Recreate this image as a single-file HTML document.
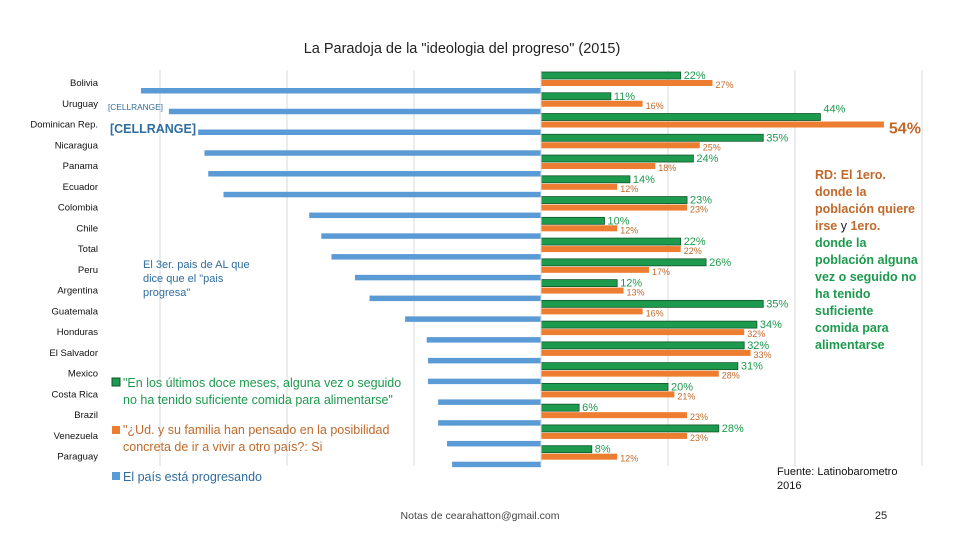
<!DOCTYPE html>
<html><head><meta charset="utf-8"><style>
body{margin:0;background:#fff;}
svg text{font-family:"Liberation Sans",sans-serif;}
</style></head><body>
<svg id="chart" width="960" height="540" xmlns="http://www.w3.org/2000/svg">
<text x="462" y="53" text-anchor="middle" font-size="14.5" fill="#222">La Paradoja de la "ideologia del progreso" (2015)</text>
<g id="grid"></g><g id="bars"></g><g id="labels"></g>
<text x="108" y="110" font-size="8.5" fill="#2e6d9e" textLength="55" lengthAdjust="spacingAndGlyphs">[CELLRANGE]</text>
<text x="110" y="133" font-size="13" font-weight="bold" fill="#2e6d9e" textLength="86" lengthAdjust="spacingAndGlyphs">[CELLRANGE]</text>
<text font-size="11" fill="#2e6d9e"><tspan x="143" y="268">El 3er. pais de AL que</tspan><tspan x="143" y="282">dice que el "pais</tspan><tspan x="143" y="296">progresa"</tspan></text>
<g font-size="12.5" font-weight="bold">
<text x="815" y="179" fill="#c0692a">RD: El 1ero.</text>
<text x="815" y="196" fill="#c0692a">donde la</text>
<text x="815" y="213" fill="#c0692a">población quiere</text>
<text x="815" y="230" fill="#c0692a">irse <tspan fill="#222" font-weight="normal">y</tspan> 1ero.</text>
<text x="815" y="247" fill="#1e9a4e">donde la</text>
<text x="815" y="264" fill="#1e9a4e">población alguna</text>
<text x="815" y="281" fill="#1e9a4e">vez o seguido no</text>
<text x="815" y="298" fill="#1e9a4e">ha tenido</text>
<text x="815" y="315" fill="#1e9a4e">suficiente</text>
<text x="815" y="332" fill="#1e9a4e">comida para</text>
<text x="815" y="349" fill="#1e9a4e">alimentarse</text>
</g>
<g font-size="12.5">
<rect x="112" y="378" width="8" height="8" fill="#1e9a4e" stroke="#11572b"/>
<text fill="#1e9a4e"><tspan x="123" y="387">"En los últimos doce meses, alguna vez o seguido</tspan><tspan x="123" y="404">no ha tenido suficiente comida para alimentarse"</tspan></text>
<rect x="112" y="426" width="8" height="8" fill="#ed7d31"/>
<text fill="#c0692a"><tspan x="123" y="434">"¿Ud. y su familia han pensado en la posibilidad</tspan><tspan x="123" y="451">concreta de ir a vivir a otro país?: Si</tspan></text>
<rect x="112" y="472" width="8" height="8" fill="#5b9bd5"/>
<text x="123" y="481" fill="#2e6d9e">El país está progresando</text>
</g>
<text font-size="11" fill="#111"><tspan x="777" y="475">Fuente: Latinobarometro</tspan><tspan x="777" y="489">2016</tspan></text>
<text x="480" y="519" text-anchor="middle" font-size="10.5" fill="#444">Notas de cearahatton@gmail.com</text>
<text x="881" y="519" text-anchor="middle" font-size="11" fill="#222">25</text>
</svg>
<script>
const countries=["Bolivia","Uruguay","Dominican Rep.","Nicaragua","Panama","Ecuador","Colombia","Chile","Total","Peru","Argentina","Guatemala","Honduras","El Salvador","Mexico","Costa Rica","Brazil","Venezuela","Paraguay"];
const hunger=[22,11,44,35,24,14,23,10,22,26,12,35,34,32,31,20,6,28,8];
const migration=[27,16,54,25,18,12,23,12,22,17,13,16,32,33,28,21,23,23,12];
const progress=[63,58.6,54,53,52.4,50,36.5,34.6,33,29.3,27,21.4,18,17.8,17.8,16.2,16.2,14.8,14];
const gridTicks=[-60,-40,-20,0,20,40,60];
const NS="http://www.w3.org/2000/svg";
const x0=541,k=6.35,top0=72,pitch=20.76;
const xs=v=>x0+v*k;
function mk(p,tag,a){const e=document.createElementNS(NS,tag);for(const n in a)e.setAttribute(n,a[n]);p.appendChild(e);return e;}
const grid=document.getElementById('grid'),bars=document.getElementById('bars'),labels=document.getElementById('labels');
gridTicks.forEach(t=>{if(t===0)return;
const l=mk(grid,'line',{x1:xs(t),x2:xs(t),y1:70,y2:466,stroke:'#d9d9d9','stroke-width':1});

});
countries.forEach((c,i)=>{const y=top0+i*pitch;
const t=mk(labels,'text',{x:98,y:y+14,'text-anchor':'end','font-size':9.5,fill:'#111'});t.textContent=c;


const g=mk(bars,'rect',{x:x0,y:y,width:hunger[i]*k,height:7,fill:'#1e9a4e',stroke:'#11572b','stroke-width':0.8});


const o=mk(bars,'rect',{x:x0,y:y+8,width:migration[i]*k,height:6,fill:'#ed7d31'});


const b=mk(bars,'rect',{x:xs(-progress[i]),y:y+16,width:progress[i]*k,height:5.5,fill:'#5b9bd5'});


const gl=mk(labels,'text',{x:xs(hunger[i])+3,y:y+(i===2?-1:7),'font-size':11,fill:'#1e9a4e'});gl.textContent=hunger[i]+'%';


const big=i===2;
const ol=mk(labels,'text',{x:xs(migration[i])+(big?5:3),y:y+(big?20:16),'font-size':big?16:9,'font-weight':big?'bold':'normal',fill:'#c0692a'});ol.textContent=migration[i]+'%';


});
mk(bars,'line',{x1:x0,x2:x0,y1:70,y2:466,stroke:'#d9d9d9','stroke-width':1});
</script>
</body></html>
